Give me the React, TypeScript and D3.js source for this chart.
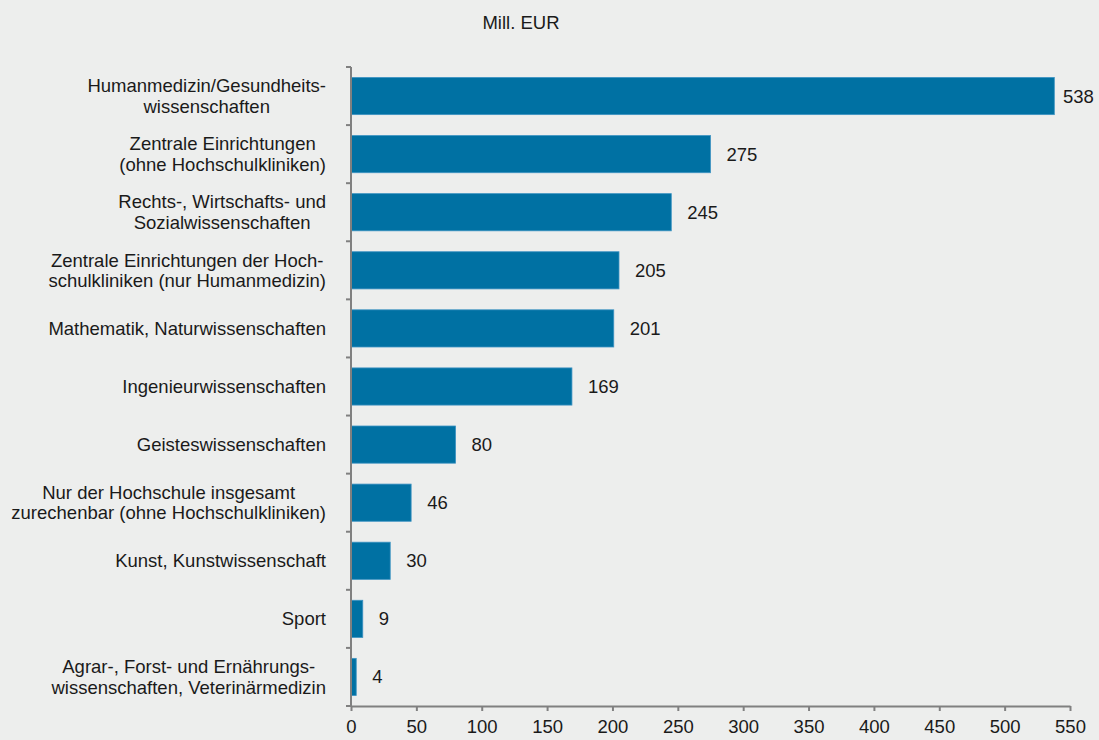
import React, { useEffect, useRef } from 'react'
import * as d3 from 'd3'

const categories = [
  ['Humanmedizin/Gesundheits-', 'wissenschaften'],
  ['Zentrale Einrichtungen', '(ohne Hochschulkliniken)'],
  ['Rechts-, Wirtschafts- und', 'Sozialwissenschaften'],
  ['Zentrale Einrichtungen der Hoch-', 'schulkliniken (nur Humanmedizin)'],
  ['Mathematik, Naturwissenschaften'],
  ['Ingenieurwissenschaften'],
  ['Geisteswissenschaften'],
  ['Nur der Hochschule insgesamt', 'zurechenbar (ohne Hochschulkliniken)'],
  ['Kunst, Kunstwissenschaft'],
  ['Sport'],
  ['Agrar-, Forst- und Ernährungs-', 'wissenschaften, Veterinärmedizin'],
]
const values = [538, 275, 245, 205, 201, 169, 80, 46, 30, 9, 4]
const xTicks = [0, 50, 100, 150, 200, 250, 300, 350, 400, 450, 500, 550]
const unitLabel = 'Mill. EUR'

const width = 1099
const height = 740
const margin = { top: 67, right: 29, bottom: 34, left: 351 }
const font = 'Liberation Sans, Arial, sans-serif'
const fontSize = 18.5
const axisColor = '#808080'

function App() {
  const svgRef = useRef<SVGSVGElement>(null)

  useEffect(() => {
    const svg = d3.select(svgRef.current)
    svg.selectAll('*').remove()

    const idx = values.map((_, i) => i)
    const x = d3.scaleLinear().domain([0, 550]).range([margin.left, width - margin.right])
    const y = d3
      .scaleBand<number>()
      .domain(idx)
      .range([margin.top, height - margin.bottom])
      .paddingInner(0.36)
      .paddingOuter(0.18)
    const step = y.step()

    svg.append('rect').attr('width', width).attr('height', height).attr('fill', '#edeeed')

    svg
      .append('text')
      .attr('x', 521)
      .attr('y', 29)
      .attr('text-anchor', 'middle')
      .attr('font-family', font)
      .attr('font-size', fontSize)
      .attr('fill', '#1a1a1a')
      .text(unitLabel)

    // bars
    svg
      .append('g')
      .selectAll('rect')
      .data(idx)
      .join('rect')
      .attr('x', x(0))
      .attr('y', i => y(i)!)
      .attr('width', i => x(values[i]) - x(0))
      .attr('height', y.bandwidth())
      .attr('fill', '#0071a3')
      .attr('stroke', '#3d93c2')
      .attr('stroke-width', 0.8)

    // value labels
    svg
      .append('g')
      .selectAll('text')
      .data(idx)
      .join('text')
      .attr('x', i => Math.min(x(values[i]) + 16, width - 36))
      .attr('y', i => y(i)! + y.bandwidth() / 2)
      .attr('dy', '0.35em')
      .attr('font-family', font)
      .attr('font-size', fontSize)
      .attr('fill', '#1a1a1a')
      .text(i => values[i])

    // category labels: lines centered, block right-aligned
    const labelRight = 326
    const lineH = 20.5
    const lg = svg.append('g').attr('font-family', font).attr('font-size', fontSize).attr('fill', '#1a1a1a')
    idx.forEach(i => {
      const lines = categories[i]
      const cy = y(i)! + y.bandwidth() / 2
      const t = lg.append('text').attr('text-anchor', 'middle')
      const spans = lines.map((ln, k) =>
        t
          .append('tspan')
          .attr('y', cy + (k - (lines.length - 1) / 2) * lineH)
          .attr('dy', '0.35em')
          .text(ln)
      )
      const w = d3.max(spans, s => (s.node() as SVGTSpanElement).getComputedTextLength()) || 0
      spans.forEach(s => s.attr('x', labelRight - w / 2))
    })

    // y axis with ticks at band boundaries
    const yAxis = svg.append('g').attr('stroke', axisColor).attr('stroke-width', 2)
    yAxis
      .append('line')
      .attr('x1', x(0))
      .attr('x2', x(0))
      .attr('y1', margin.top)
      .attr('y2', height - margin.bottom)
    const bounds = d3.range(values.length + 1).map(k => margin.top + k * step)
    yAxis
      .selectAll('line.tick')
      .data(bounds)
      .join('line')
      .attr('class', 'tick')
      .attr('x1', x(0) - 5)
      .attr('x2', x(0))
      .attr('y1', d => d)
      .attr('y2', d => d)

    // x axis
    const xAxis = svg
      .append('g')
      .attr('transform', `translate(0, ${height - margin.bottom})`)
      .call(d3.axisBottom(x).tickValues(xTicks).tickSize(5).tickPadding(9).tickSizeOuter(0))
    xAxis.select('.domain').attr('stroke', axisColor).attr('stroke-width', 2)
    xAxis.selectAll('.tick line').attr('stroke', axisColor).attr('stroke-width', 2)
    xAxis
      .selectAll('.tick text')
      .attr('font-family', font)
      .attr('font-size', fontSize)
      .attr('fill', '#1a1a1a')
  }, [])

  return (
    <svg
      ref={svgRef}
      width={width}
      height={height}
      style={{ position: 'absolute', left: 0, top: 0 }}
    ></svg>
  )
}

export default App
